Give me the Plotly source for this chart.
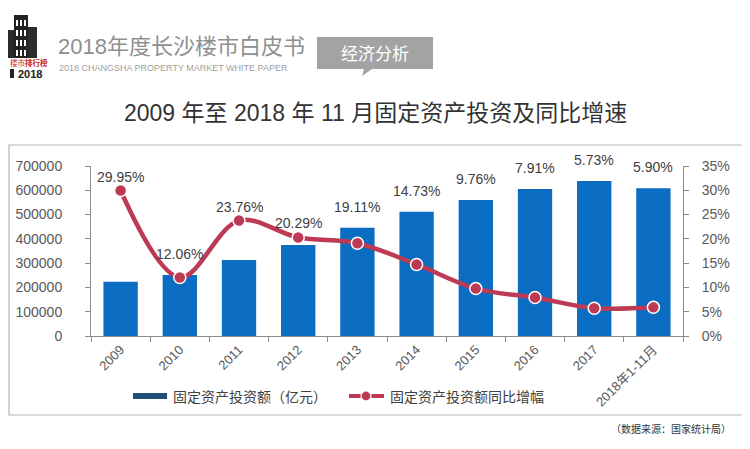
import plotly.graph_objects as go

categories = ["2009", "2010", "2011", "2012", "2013", "2014", "2015", "2016", "2017", "2018年1-11月"]
investment = [223000, 251000, 313000, 375000, 446000, 512000, 560000, 605000, 638000, 608000]
growth_pct = [29.95, 12.06, 23.76, 20.29, 19.11, 14.73, 9.76, 7.91, 5.73, 5.90]
left_ticks = [0, 100000, 200000, 300000, 400000, 500000, 600000, 700000]
right_ticks = [0, 5, 10, 15, 20, 25, 30, 35]

OFF = 8  # page body margin
W, H = 750 - OFF, 449 - OFF
L, R, T, B = 91, 683, 166, 336  # plot area in screen pixels


def px(x):
    return (x - L) / (R - L)


def py(y):
    return (B - y) / (B - T)


FONT = "Liberation Sans, Arial, Noto Sans CJK SC, sans-serif"
CJK = "Noto Sans CJK SC, Liberation Sans, sans-serif"
BAR_C = "#0a6dc2"
LINE_C = "#bd3a55"

fig = go.Figure()
fig.add_trace(go.Bar(
    x=categories, y=investment, name="固定资产投资额（亿元）",
    marker=dict(color=BAR_C, line=dict(width=0)), width=0.58,
    showlegend=False,
))
fig.add_trace(go.Scatter(
    x=categories, y=growth_pct, yaxis="y2", name="固定资产投资额同比增幅",
    mode="lines+markers",
    line=dict(color=LINE_C, width=4.5, shape="spline", smoothing=1.0),
    marker=dict(size=12, color=LINE_C, line=dict(color="white", width=1.5)),
    showlegend=False,
))

ymax = left_ticks[-1]
pmax = right_ticks[-1]
annotations = []
for i, (v, p) in enumerate(zip(investment, growth_pct)):
    top = max(v, p / pmax * ymax)
    annotations.append(dict(
        x=i, y=top, xref="x", yref="y", text=f"{p:.2f}%", showarrow=False,
        yshift=21 if v >= p / pmax * ymax else 14, yanchor="middle",
        font=dict(family=FONT, size=14, color="#404040"),
    ))

# Title
annotations.append(dict(
    x=px(375), y=py(113), xref="paper", yref="paper",
    text="2009 年至 2018 年 11 月固定资产投资及同比增速", showarrow=False,
    font=dict(family=FONT, size=23, color="#333333"), xanchor="center", yanchor="middle",
))
# Header
annotations.append(dict(
    x=px(56), y=py(46), xref="paper", yref="paper", text="2018年度长沙楼市白皮书",
    showarrow=False, font=dict(family=FONT, size=22, color="#8f8f8f"),
    xanchor="left", yanchor="middle",
))
annotations.append(dict(
    x=px(57), y=py(68), xref="paper", yref="paper",
    text="2018 CHANGSHA PROPERTY MARKET WHITE PAPER",
    showarrow=False, font=dict(family=FONT, size=9, color="#a0a0a0"),
    xanchor="left", yanchor="middle",
))
annotations.append(dict(
    x=px(375), y=py(53), xref="paper", yref="paper", text="经济分析",
    showarrow=False, font=dict(family=CJK, size=17, color="white"),
    xanchor="center", yanchor="middle",
))
# Logo texts
annotations.append(dict(
    x=px(29), y=py(63), xref="paper", yref="paper", text="楼市<b>排行榜</b>",
    showarrow=False, font=dict(family=CJK, size=7.5, color="#c8202c"),
    xanchor="center", yanchor="middle",
))
annotations.append(dict(
    x=px(30), y=py(74), xref="paper", yref="paper", text="<b>2018</b>",
    showarrow=False, font=dict(family=FONT, size=11, color="#222222"),
    xanchor="center", yanchor="middle",
))
# Legend texts
annotations.append(dict(
    x=px(171), y=py(396), xref="paper", yref="paper", text="固定资产投资额（亿元）",
    showarrow=False, font=dict(family=CJK, size=14, color="#404040"),
    xanchor="left", yanchor="middle",
))
annotations.append(dict(
    x=px(388), y=py(396), xref="paper", yref="paper", text="固定资产投资额同比增幅",
    showarrow=False, font=dict(family=CJK, size=14, color="#404040"),
    xanchor="left", yanchor="middle",
))
# Source
annotations.append(dict(
    x=px(733), y=py(428), xref="paper", yref="paper", text="（数据来源：国家统计局）",
    showarrow=False, font=dict(family=CJK, size=10, color="#333333"),
    xanchor="right", yanchor="middle",
))

shapes = [
    # chart frame
    dict(type="rect", xref="paper", yref="paper", x0=px(9), x1=px(748), y0=py(415), y1=py(145),
         line=dict(color="#b5b5b5", width=1.2), layer="below"),
    # grey label box
    dict(type="path", xref="paper", yref="paper",
         path=(f"M {px(317)} {py(37)} L {px(433)} {py(37)} L {px(433)} {py(69)} "
               f"L {px(372)} {py(69)} L {px(362)} {py(76)} L {px(364)} {py(69)} "
               f"L {px(317)} {py(69)} Z"),
         fillcolor="#a3a3a3", line=dict(width=0)),
    # logo buildings
    dict(type="rect", xref="paper", yref="paper", x0=px(8), x1=px(14), y0=py(58), y1=py(30),
         fillcolor="#2b2b2b", line=dict(width=0)),
    dict(type="rect", xref="paper", yref="paper", x0=px(14), x1=px(28), y0=py(58), y1=py(15),
         fillcolor="#222222", line=dict(width=0)),
    dict(type="rect", xref="paper", yref="paper", x0=px(28), x1=px(37), y0=py(58), y1=py(27),
         fillcolor="#2b2b2b", line=dict(width=0)),
    dict(type="rect", xref="paper", yref="paper", x0=px(10), x1=px(14), y0=py(78), y1=py(69),
         fillcolor="#222222", line=dict(width=0)),
    # legend symbols
    dict(type="rect", xref="paper", yref="paper", x0=px(133), x1=px(167), y0=py(399), y1=py(393),
         fillcolor="#1f4e79", line=dict(width=0)),
    dict(type="line", xref="paper", yref="paper", x0=px(349), x1=px(384), y0=py(396), y1=py(396),
         line=dict(color=LINE_C, width=4)),
    dict(type="circle", xref="paper", yref="paper", x0=px(361), x1=px(371), y0=py(401), y1=py(391),
         fillcolor=LINE_C, line=dict(color="white", width=1.2)),
]
# logo windows
for wx in [16, 20, 24]:
    for wy in [20, 30, 40, 50]:
        shapes.append(dict(type="rect", xref="paper", yref="paper",
                           x0=px(wx), x1=px(wx + 2), y0=py(wy + 6), y1=py(wy),
                           fillcolor="white", line=dict(width=0)))

axis_font = dict(family=FONT, size=14, color="#595959")
fig.update_layout(
    width=W, height=H,
    margin=dict(l=L - OFF, r=(750 - OFF) - (R - OFF), t=T - OFF, b=H - (B - OFF), autoexpand=False),
    paper_bgcolor="white", plot_bgcolor="white",
    xaxis=dict(
        type="category", range=[-0.5, len(categories) - 0.5],
        showline=True, linecolor="#8c8c8c", linewidth=1,
        ticks="outside", tickson="boundaries", ticklen=5, tickcolor="#8c8c8c",
        tickangle=-45, tickfont=dict(family=FONT, size=13, color="#595959"),
        showgrid=False, automargin=False,
    ),
    yaxis=dict(
        range=[0, ymax], tickvals=left_ticks, ticktext=[str(v) for v in left_ticks],
        showline=True, linecolor="#8c8c8c", linewidth=1,
        ticks="outside", ticklen=5, tickcolor="#8c8c8c", ticklabelstandoff=20,
        tickfont=axis_font, showgrid=False, zeroline=False, automargin=False,
    ),
    yaxis2=dict(
        range=[0, pmax], overlaying="y", side="right",
        tickvals=right_ticks, ticktext=[f"{v}%" for v in right_ticks],
        showline=True, linecolor="#8c8c8c", linewidth=1,
        ticks="outside", ticklen=5, tickcolor="#8c8c8c", ticklabelstandoff=10,
        tickfont=axis_font, showgrid=False, zeroline=False, automargin=False,
    ),
    annotations=annotations,
    shapes=shapes,
    showlegend=False,
)

fig.write_html("out.html")
